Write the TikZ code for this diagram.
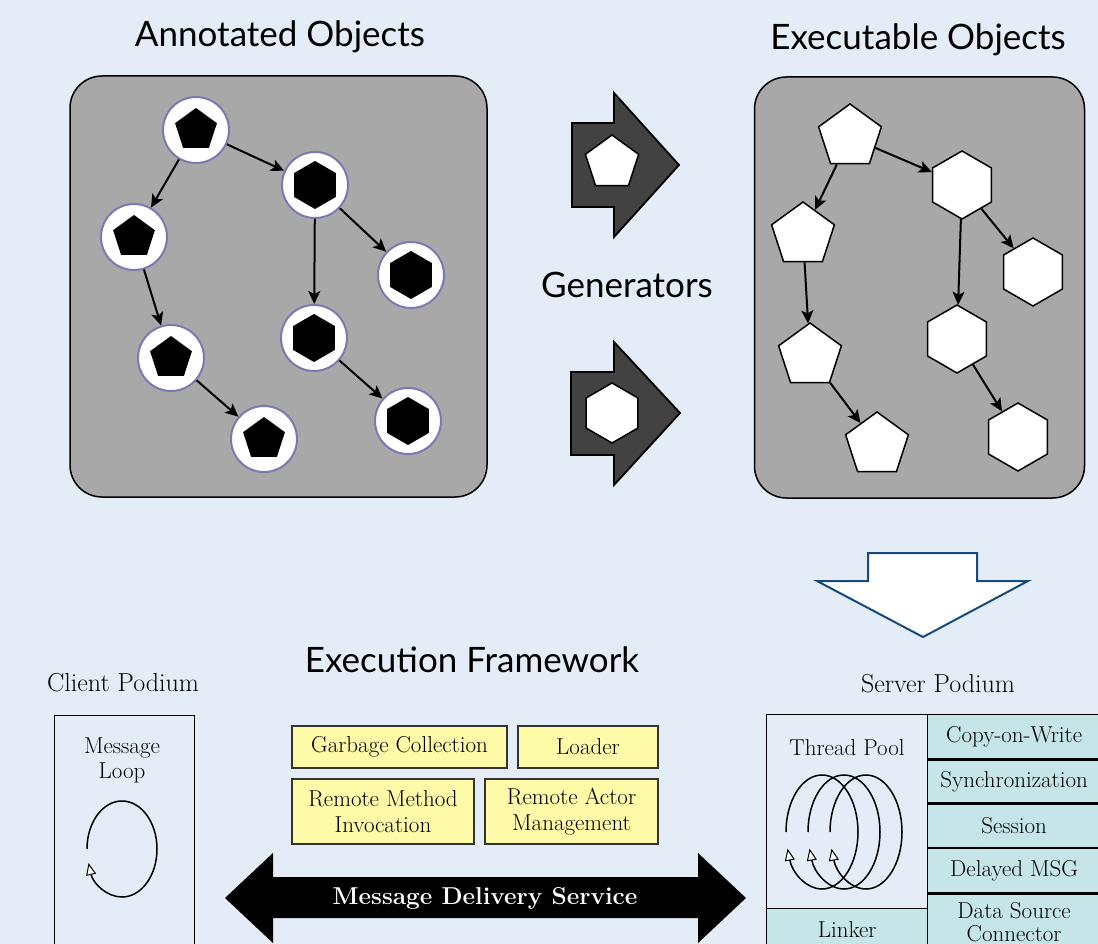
\documentclass[tikz,border=0pt]{standalone}
\usepackage{fontspec}
\newfontfamily\titlefont{Lato}
\usepackage{tikz}
\usetikzlibrary{arrows.meta,positioning,shapes.geometric}
\tikzset{
  font={\fontsize{23pt}{26}\selectfont}}
\definecolor{pagebg}{RGB}{228,237,247}
\definecolor{boxgray}{RGB}{168,168,168}
\definecolor{ringblue}{RGB}{122,122,178}
\definecolor{gendark}{RGB}{66,66,66}
\definecolor{notepad}{RGB}{255,250,168}
\definecolor{cellcyan}{RGB}{197,229,232}
\definecolor{downblue}{RGB}{22,74,124}

\begin{document}
\begin{tikzpicture}[x=1pt,y=-1pt,
    obj_box/.style ={rectangle, draw=black, line width=1.5pt, fill=boxgray,
      rounded corners=32pt, inner sep=0pt},
    ann_ring/.style ={circle, draw=ringblue, line width=2pt, fill=white,
      minimum size=66pt, inner sep=0pt},
    ann_penta/.style ={regular polygon, regular polygon sides=5, fill=black,
      minimum size=44pt, inner sep=0pt},
    ann_hexa/.style ={regular polygon, regular polygon sides=6, shape border rotate=30,
      fill=black, minimum size=48pt, inner sep=0pt},
    exe_penta/.style ={regular polygon, regular polygon sides=5, draw=black, line width=1.5pt,
      fill=white, minimum size=66pt, inner sep=0pt},
    exe_hexa/.style ={regular polygon, regular polygon sides=6, shape border rotate=30,
      draw=black, line width=1.5pt, fill=white, minimum size=68pt, inner sep=0pt},
    gen_arrow/.style ={draw=black, line width=1.8pt, fill=gendark},
    down_arrow/.style ={draw=downblue, line width=2pt, fill=white},
    title_text/.style ={font={\titlefont\fontsize{35pt}{40}\selectfont}, anchor=base},
    podium_text/.style ={font={\fontsize{26pt}{30}\selectfont}, anchor=base},
    note_box/.style ={rectangle, draw=black!80, line width=1.3pt, fill=notepad,
      align=center, inner sep=0pt},
    frame_box/.style ={rectangle, draw=black, line width=1.3pt, inner sep=0pt},
    cell_box/.style ={rectangle, draw=black, line width=1.3pt, fill=cellcyan,
      align=center, inner sep=0pt, anchor=north west, minimum width=173pt},
    paths2/.style={black, draw, line width=2pt,
      arrows={-Stealth[length=13pt, width=12pt, inset=3pt]}},
    loop_line/.style={draw=black, line width=1.5pt,
      arrows={-Triangle[length=12pt, width=10pt, fill=white, line width=1pt]}}]

    \path[use as bounding box, fill=pagebg] (0,0) rectangle (1098,944);

    % titles
    \node[title_text] (anntitle) at (280,47) {Annotated Objects};
    \node[title_text] (exetitle) at (918,50) {Executable Objects};
    \node[title_text] (gentitle) at (627,298) {Generators};
    \node[title_text] (fwtitle) at (472,672) {Execution Framework};

    % annotated objects
    \node[obj_box, minimum width=417pt, minimum height=421pt] (annbox) at (278.5,286.5) {};
    \node[ann_ring] (ap1) at (196,130) {};
    \node[ann_ring] (ap2) at (134,237) {};
    \node[ann_ring] (ap3) at (171,358) {};
    \node[ann_ring] (ap4) at (264,439) {};
    \node[ann_ring] (ah1) at (315,185) {};
    \node[ann_ring] (ah2) at (411,275) {};
    \node[ann_ring] (ah3) at (314,338) {};
    \node[ann_ring] (ah4) at (408,421) {};
    \node[ann_penta] (ap1s) at (ap1) {};
    \node[ann_penta] (ap2s) at (ap2) {};
    \node[ann_penta] (ap3s) at (ap3) {};
    \node[ann_penta] (ap4s) at (ap4) {};
    \node[ann_hexa] (ah1s) at (ah1) {};
    \node[ann_hexa] (ah2s) at (ah2) {};
    \node[ann_hexa] (ah3s) at (ah3) {};
    \node[ann_hexa] (ah4s) at (ah4) {};

    % executable objects
    \node[obj_box, minimum width=330pt, minimum height=421pt] (exebox) at (919.5,287.5) {};
    \node[exe_penta] (ep1) at (850,137) {};
    \node[exe_penta] (ep2) at (803,235) {};
    \node[exe_penta] (ep3) at (810,356) {};
    \node[exe_penta] (ep4) at (877,445) {};
    \node[exe_hexa] (eh1) at (962,185) {};
    \node[exe_hexa] (eh2) at (1033,272) {};
    \node[exe_hexa] (eh3) at (957,339) {};
    \node[exe_hexa] (eh4) at (1018,437) {};

    % generators
    \draw[gen_arrow] (572,123) -- (614,123) -- (614,93) -- (679,165) -- (614,237)
      -- (614,207) -- (572,207) -- cycle;
    \draw[gen_arrow] (571,372) -- (614,372) -- (614,342) -- (680,413) -- (614,485)
      -- (614,455) -- (571,455) -- cycle;
    \node[exe_penta, minimum size=56pt] (genp) at (612,163) {};
    \node[exe_hexa, minimum size=60pt] (genh) at (612,413) {};

    % down to the framework
    \draw[down_arrow] (868,553) -- (977,553) -- (977,581) -- (1028,581) -- (923,637)
      -- (817,581) -- (868,581) -- cycle;

    % client podium
    \node[podium_text] (clienttitle) at (123,691) {Client Podium};
    \node[frame_box, anchor=north, minimum width=140pt, minimum height=250pt] (clientbox) at (124.5,715) {};
    \node[align=center, inner sep=0pt] (msgloop) at (122,760) {Message\\[-1pt]Loop};
    \coordinate (loopc) at (122,849);

    % framework services
    \node[note_box, minimum width=215pt, minimum height=42pt] (gc) at (399.5,747) {Garbage Collection};
    \node[note_box, minimum width=140pt, minimum height=42pt] (loader) at (588,747) {Loader};
    \node[note_box, minimum width=182pt, minimum height=65pt] (rmi) at (383,811.5) {Remote Method\\Invocation};
    \node[note_box, minimum width=173pt, minimum height=65pt] (ram) at (571.5,811.5) {Remote Actor\\Management};

    % message delivery
    \fill[black] (225,898) -- (273,853) -- (273,877) -- (698,877) -- (698,853) -- (746,898)
      -- (698,943) -- (698,918) -- (273,918) -- (273,943) -- cycle;
    \node[text=white, font={\fontsize{24.4pt}{28}\selectfont\bfseries}] (msgsvc) at (485,898) {Message Delivery Service};

    % server podium
    \node[podium_text] (servertitle) at (938,692) {Server Podium};
    \node[frame_box, anchor=north west, minimum width=161pt, minimum height=194pt] (threadbox) at (766,714) {};
    \node[anchor=base] (threadpool) at (847,755) {Thread Pool};
    \coordinate (tp1) at (822,832);
    \coordinate (tp2) at (844,832);
    \coordinate (tp3) at (866,832);
    \node[cell_box, minimum width=161pt, minimum height=42pt] (linker) at (766,908) {Linker};
    \node[cell_box, minimum height=44pt] (cow) at (927,714) {Copy-on-Write};
    \node[cell_box, minimum height=43pt, below=0pt of cow.south west, anchor=north west] (sync) {Synchronization};
    \node[cell_box, minimum height=43pt, below=0pt of sync.south west, anchor=north west] (session) {Session};
    \node[cell_box, minimum height=44pt, below=0pt of session.south west, anchor=north west] (delayed) {Delayed MSG};
    \node[cell_box, minimum height=56pt, below=0pt of delayed.south west, anchor=north west] (datasrc) {Data Source\\[-3pt]Connector};

    % loops
    \draw[loop_line] ([xshift=-35pt]loopc) arc[start angle=180, end angle=-163, x radius=35pt, y radius=48pt];
    \draw[loop_line] ([xshift=-36pt]tp1) arc[start angle=180, end angle=-163, x radius=36pt, y radius=57pt];
    \draw[loop_line] ([xshift=-36pt]tp2) arc[start angle=180, end angle=-163, x radius=36pt, y radius=57pt];
    \draw[loop_line] ([xshift=-36pt]tp3) arc[start angle=180, end angle=-163, x radius=36pt, y radius=57pt];

    % connecting nodes with paths
    \begin{scope}[every path/.style=paths2]
      \path (ap1)--(ap2);
      \path (ap1)--(ah1);
      \path (ap2)--(ap3);
      \path (ap3)--(ap4);
      \path (ah1)--(ah3);
      \path (ah1)--(ah2);
      \path (ah3)--(ah4);
      \path (ep1)--(ep2);
      \path (ep1)--(eh1);
      \path (ep2)--(ep3);
      \path (ep3)--(ep4);
      \path (eh1)--(eh3);
      \path (eh1)--(eh2);
      \path (eh3)--(eh4);
    \end{scope}
\end{tikzpicture}
\end{document}
